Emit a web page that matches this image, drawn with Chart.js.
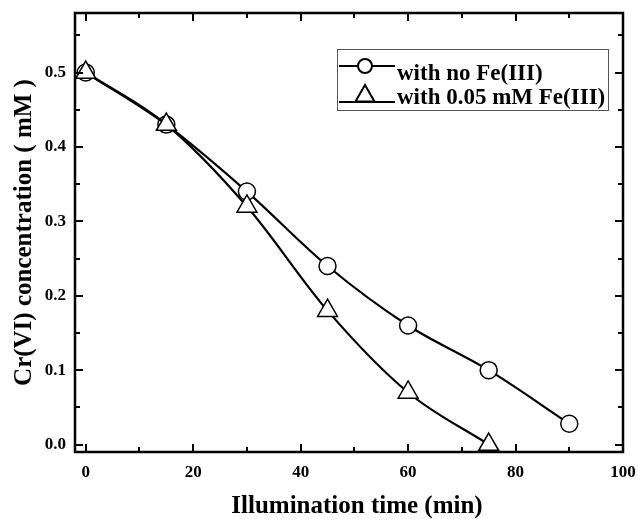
<!DOCTYPE html>
<html>
<head>
<meta charset="utf-8">
<script src="https://cdn.jsdelivr.net/npm/chart.js@4.4.0/dist/chart.umd.min.js"></script>
<style>
  body { margin: 0; background: #fff; }
  #wrap { width: 638px; height: 519px; }
</style>
</head>
<body>
<div id="wrap"><canvas id="myChart" width="638" height="519"></canvas></div>
<script>
// data
const times = [0, 15, 30, 45, 60, 75, 90];
const noFe = [0.50, 0.43, 0.34, 0.24, 0.16, 0.10, 0.028];
const withFe = [0.50, 0.43, 0.32, 0.18, 0.07, 0.0];
const xTicks = [0, 20, 40, 60, 80, 100];
const yTicks = [0.0, 0.1, 0.2, 0.3, 0.4, 0.5];
const labels = ['with no Fe(III)', 'with 0.05 mM Fe(III)'];
const xTitle = 'Illumination time (min)';

const serif = '"Liberation Serif", "Times New Roman", serif';

// frame, inward ticks on all four sides, x title and the boxed legend
const framePlugin = {
    id: 'frame',
    afterDatasetsDraw(chart) {
        const c = chart.ctx;
        const a = chart.chartArea;
        const xs = chart.scales.x;
        const ys = chart.scales.y;
        c.save();
        c.strokeStyle = '#000';
        c.lineWidth = 2;
        c.lineCap = 'butt';
        c.beginPath();
        for (let v = 0; v <= 100; v += 10) {
            const px = Math.round(xs.getPixelForValue(v));
            const len = v % 20 === 0 ? 8 : 5;
            c.moveTo(px, a.bottom); c.lineTo(px, a.bottom - len);
            c.moveTo(px, a.top); c.lineTo(px, a.top + len);
        }
        for (let i = 0; i <= 11; i++) {
            const v = i * 0.05;
            const py = Math.round(ys.getPixelForValue(v));
            const len = i % 2 === 0 ? 8 : 5;
            c.moveTo(a.left, py); c.lineTo(a.left + len, py);
            c.moveTo(a.right, py); c.lineTo(a.right - len, py);
        }
        c.stroke();
        c.lineWidth = 2.5;
        c.strokeRect(a.left, a.top, a.right - a.left, a.bottom - a.top);

        // x axis title (sits a bit right of the plot centre in the original)
        c.fillStyle = '#000';
        c.font = 'bold 25px ' + serif;
        c.textAlign = 'center';
        c.textBaseline = 'alphabetic';
        c.fillText(xTitle, 357, 513);

        // legend
        const lx = 337, ly = 49, lw = 271, lh = 61;
        c.lineWidth = 1;
        c.strokeStyle = '#555';
        c.strokeRect(lx + 0.5, ly + 0.5, lw, lh);
        c.font = 'bold 23px ' + serif;
        c.textAlign = 'left';
        const rows = [
            { line: 66, mark: 66, base: 80, r: 7 },
            { line: 102, mark: 96, base: 104, r: 11 }
        ];
        chart.data.datasets.forEach((ds, i) => {
            const row = rows[i];
            c.strokeStyle = '#000';
            c.lineWidth = 2;
            c.beginPath();
            c.moveTo(lx + 2, row.line); c.lineTo(lx + 58, row.line);
            c.stroke();
            c.fillStyle = '#fff';
            Chart.helpers.drawPoint(c, {
                pointStyle: ds.pointStyle,
                radius: row.r,
                borderWidth: 1.5
            }, lx + 28, row.mark);
            c.fillStyle = '#000';
            c.fillText(ds.label, lx + 60, row.base);
        });
        c.restore();
    }
};

const ctx = document.getElementById('myChart').getContext('2d');

new Chart(ctx, {
    type: 'line',
    data: {
        datasets: [
            {
                label: labels[0],
                data: times.map((t, i) => ({ x: t, y: noFe[i] })),
                order: 1,
                borderColor: '#000',
                borderWidth: 2.2,
                backgroundColor: '#fff',
                pointStyle: 'circle',
                pointRadius: 8.5,
                pointBorderWidth: 1.5,
                pointBackgroundColor: '#fff',
                pointBorderColor: '#000',
                cubicInterpolationMode: 'monotone',
                clip: false
            },
            {
                label: labels[1],
                data: withFe.map((v, i) => ({ x: times[i], y: v })),
                order: 0,
                borderColor: '#000',
                borderWidth: 2.2,
                backgroundColor: '#fff',
                pointStyle: 'triangle',
                pointRadius: 11.5,
                pointBorderWidth: 1.5,
                pointBackgroundColor: '#fff',
                pointBorderColor: '#000',
                cubicInterpolationMode: 'monotone',
                clip: false
            }
        ]
    },
    options: {
        responsive: false,
        animation: false,
        layout: { padding: { top: 11, right: 15, bottom: 0, left: 0 } },
        plugins: {
            legend: { display: false },
            tooltip: { enabled: false }
        },
        scales: {
            x: {
                type: 'linear',
                min: -2,
                max: 100,
                afterBuildTicks: (s) => { s.ticks = xTicks.map(v => ({ value: v })); },
                afterFit: (s) => {
                    s.height = 67;
                    s.paddingLeft = 0;
                    s.paddingRight = 0;
                },
                grid: { display: false, drawTicks: false },
                border: { display: false },
                ticks: {
                    padding: 10,
                    color: '#000',
                    font: { family: serif, size: 17, weight: 'bold' },
                    maxRotation: 0
                },
                title: { display: false }
            },
            y: {
                type: 'linear',
                min: -0.01,
                max: 0.58,
                afterBuildTicks: (s) => { s.ticks = yTicks.map(v => ({ value: v })); },
                afterFit: (s) => {
                    s.width = 75;
                    s.paddingTop = 0;
                    s.paddingBottom = 0;
                },
                grid: { display: false, drawTicks: false },
                border: { display: false },
                ticks: {
                    padding: 9,
                    color: '#000',
                    font: { family: serif, size: 17, weight: 'bold' },
                    callback: (v) => v.toFixed(1)
                },
                title: {
                    display: true,
                    text: 'Cr(VI) concentration ( mM )',
                    color: '#000',
                    font: { family: serif, size: 25, weight: 'bold' },
                    padding: { top: 10, bottom: 0 }
                }
            }
        }
    },
    plugins: [framePlugin]
});
</script>
</body>
</html>
